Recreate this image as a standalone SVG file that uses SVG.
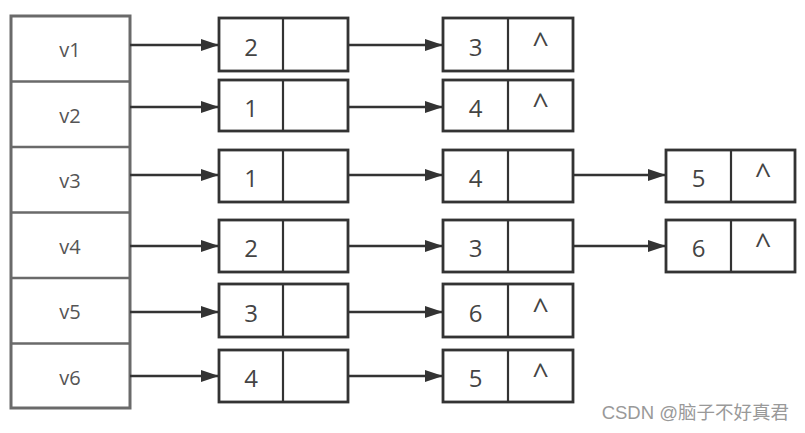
<svg xmlns="http://www.w3.org/2000/svg" width="805" height="433" viewBox="0 0 805 433">
<style>
.hd{fill:#fff;stroke:#6a6a6a;stroke-width:3}
.sep{stroke:#6a6a6a;stroke-width:2.5}
.bx{fill:#fff;stroke:#333;stroke-width:2.8}
.dv{stroke:#333;stroke-width:2.2}
.vl{font-family:"Open Sans","Liberation Sans",sans-serif;font-size:20px;fill:#555;text-anchor:middle}
.dg{font-family:"Open Sans","Liberation Sans",sans-serif;font-size:24px;fill:#444;text-anchor:middle}
.ct{font-family:"Open Sans","Liberation Sans",sans-serif;font-size:29px;fill:#444;text-anchor:middle}
.ln{stroke:#333;stroke-width:2.6;fill:none;marker-end:url(#ah)}
.wm{font-family:"Liberation Sans","Noto Sans CJK SC",sans-serif;font-size:18.5px;fill:#999;text-anchor:end}
</style>
<defs>
<marker id="ah" markerUnits="userSpaceOnUse" markerWidth="20" markerHeight="14" refX="18" refY="6.5" orient="auto">
<path d="M0,0.5 L18,6.5 L0,12.5 z" fill="#333"/>
</marker>
</defs>
<rect width="805" height="433" fill="#fff"/>
<g id="head">
<rect class="hd" x="11" y="16" width="119" height="392"/>
<line class="sep" x1="11" y1="81.5" x2="130" y2="81.5"/>
<line class="sep" x1="11" y1="147" x2="130" y2="147"/>
<line class="sep" x1="11" y1="212.5" x2="130" y2="212.5"/>
<line class="sep" x1="11" y1="278" x2="130" y2="278"/>
<line class="sep" x1="11" y1="343.5" x2="130" y2="343.5"/>
<text class="vl" x="70" y="57">v1</text>
<text class="vl" x="70" y="122.5">v2</text>
<text class="vl" x="70" y="188">v3</text>
<text class="vl" x="70" y="253.5">v4</text>
<text class="vl" x="70" y="319">v5</text>
<text class="vl" x="70" y="384.5">v6</text>
</g>
<g id="connectors">
<line class="ln" x1="130" y1="45" x2="219" y2="45"/>
<line class="ln" x1="348" y1="45" x2="443" y2="45"/>
<line class="ln" x1="130" y1="107" x2="219" y2="107"/>
<line class="ln" x1="348" y1="107" x2="443" y2="107"/>
<line class="ln" x1="130" y1="175" x2="219" y2="175"/>
<line class="ln" x1="348" y1="175" x2="443" y2="175"/>
<line class="ln" x1="573" y1="175" x2="666" y2="175"/>
<line class="ln" x1="130" y1="246" x2="219" y2="246"/>
<line class="ln" x1="348" y1="246" x2="443" y2="246"/>
<line class="ln" x1="573" y1="246" x2="666" y2="246"/>
<line class="ln" x1="130" y1="312" x2="219" y2="312"/>
<line class="ln" x1="348" y1="312" x2="443" y2="312"/>
<line class="ln" x1="130" y1="376" x2="219" y2="376"/>
<line class="ln" x1="348" y1="376" x2="443" y2="376"/>
</g>
<g id="n1a"><rect class="bx" x="219" y="18" width="129" height="53"/><line class="dv" x1="283" y1="18" x2="283" y2="71"/><text class="dg" x="251" y="56">2</text></g>
<g id="n1b"><rect class="bx" x="443" y="18" width="130" height="53"/><line class="dv" x1="508" y1="18" x2="508" y2="71"/><text class="dg" x="475.5" y="56">3</text><text class="ct" x="540.5" y="54">^</text></g>
<g id="n2a"><rect class="bx" x="219" y="80" width="129" height="51"/><line class="dv" x1="283" y1="80" x2="283" y2="131"/><text class="dg" x="251" y="117">1</text></g>
<g id="n2b"><rect class="bx" x="443" y="80" width="130" height="51"/><line class="dv" x1="508" y1="80" x2="508" y2="131"/><text class="dg" x="475.5" y="117">4</text><text class="ct" x="540.5" y="115">^</text></g>
<g id="n3a"><rect class="bx" x="219" y="150" width="129" height="52"/><line class="dv" x1="283" y1="150" x2="283" y2="202"/><text class="dg" x="251" y="187">1</text></g>
<g id="n3b"><rect class="bx" x="443" y="150" width="130" height="52"/><line class="dv" x1="508" y1="150" x2="508" y2="202"/><text class="dg" x="475.5" y="187">4</text></g>
<g id="n3c"><rect class="bx" x="666" y="150" width="129" height="52"/><line class="dv" x1="731" y1="150" x2="731" y2="202"/><text class="dg" x="698.5" y="187">5</text><text class="ct" x="763" y="185">^</text></g>
<g id="n4a"><rect class="bx" x="219" y="220" width="129" height="52"/><line class="dv" x1="283" y1="220" x2="283" y2="272"/><text class="dg" x="251" y="257">2</text></g>
<g id="n4b"><rect class="bx" x="443" y="220" width="130" height="52"/><line class="dv" x1="508" y1="220" x2="508" y2="272"/><text class="dg" x="475.5" y="257">3</text></g>
<g id="n4c"><rect class="bx" x="666" y="220" width="129" height="52"/><line class="dv" x1="731" y1="220" x2="731" y2="272"/><text class="dg" x="698.5" y="257">6</text><text class="ct" x="763" y="255">^</text></g>
<g id="n5a"><rect class="bx" x="219" y="284" width="129" height="53"/><line class="dv" x1="283" y1="284" x2="283" y2="337"/><text class="dg" x="251" y="322">3</text></g>
<g id="n5b"><rect class="bx" x="443" y="284" width="130" height="53"/><line class="dv" x1="508" y1="284" x2="508" y2="337"/><text class="dg" x="475.5" y="322">6</text><text class="ct" x="540.5" y="320">^</text></g>
<g id="n6a"><rect class="bx" x="219" y="350" width="129" height="52"/><line class="dv" x1="283" y1="350" x2="283" y2="402"/><text class="dg" x="251" y="387">4</text></g>
<g id="n6b"><rect class="bx" x="443" y="350" width="130" height="52"/><line class="dv" x1="508" y1="350" x2="508" y2="402"/><text class="dg" x="475.5" y="387">5</text><text class="ct" x="540.5" y="385">^</text></g>
<text class="wm" x="789" y="419">CSDN @脑子不好真君</text>
</svg>
